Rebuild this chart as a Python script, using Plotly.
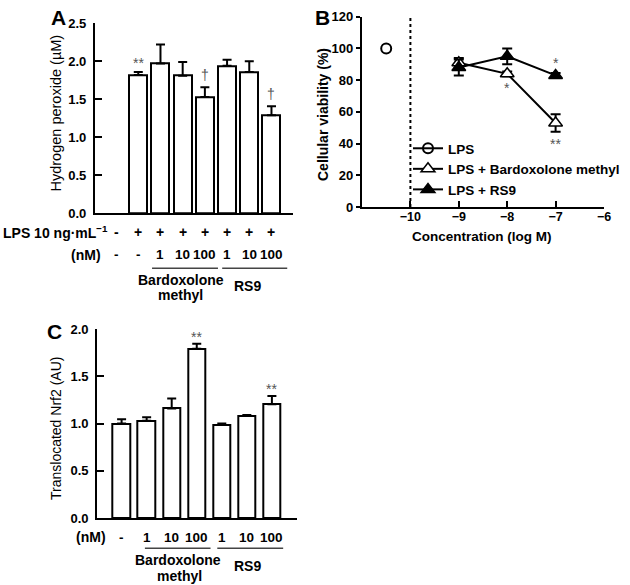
import plotly.graph_objects as go

# ---------------- Panel A: hydrogen peroxide ----------------
a_categories = ["Control", "LPS", "BM 1", "BM 10", "BM 100", "RS9 1", "RS9 10", "RS9 100"]
a_h2o2 = [None, 1.82, 1.97, 1.81, 1.53, 1.94, 1.86, 1.29]
a_h2o2_sem = [0, 0.04, 0.25, 0.18, 0.13, 0.08, 0.14, 0.12]
a_marks = ["", "**", "", "", "†", "", "", "†"]
a_lps_row = ["-", "+", "+", "+", "+", "+", "+", "+"]
a_conc_row = ["-", "-", "1", "10", "100", "1", "10", "100"]
a_yticks = [0.0, 0.5, 1.0, 1.5, 2.0, 2.5]

# ---------------- Panel B: cellular viability ----------------
b_log_conc = [-9, -8, -7]
b_bardox = [91, 84, 53]
b_bardox_sem = [3, 1.5, 5.5]
b_rs9 = [88, 95, 83]
b_rs9_sem = [5, 5, 1.5]
b_lps_x = [-10.5]
b_lps = [100]
b_bardox_marks = ["", "*", "**"]
b_rs9_marks = ["", "", "*"]
b_xticks = [-10, -9, -8, -7, -6]
b_yticks = [0, 20, 40, 60, 80, 100, 120]

# ---------------- Panel C: translocated Nrf2 ----------------
c_categories = ["Control", "BM 1", "BM 10", "BM 100", "RS9 1", "RS9 10", "RS9 100"]
c_nrf2 = [1.00, 1.03, 1.16, 1.79, 0.985, 1.08, 1.205]
c_nrf2_sem = [0.045, 0.035, 0.105, 0.055, 0.015, 0.01, 0.085]
c_marks = ["", "", "", "**", "", "", "**"]
c_conc_row = ["-", "1", "10", "100", "1", "10", "100"]
c_yticks = [0.0, 0.5, 1.0, 1.5, 2.0]

W, H = 630, 585
FONT = "Liberation Sans, Arial, sans-serif"
def px(x):
    return x / W
def py(y):
    return 1 - y / H

fig = go.Figure()

bar_style = dict(color="white", line=dict(color="black", width=2))

fig.add_trace(go.Bar(
    x=a_categories, y=a_h2o2, width=0.81, marker=bar_style,
    error_y=dict(type="data", symmetric=False, array=a_h2o2_sem,
                 arrayminus=[0] * len(a_h2o2_sem), color="black", thickness=2, width=4.5),
    xaxis="x", yaxis="y", showlegend=False))

fig.add_trace(go.Bar(
    x=c_categories, y=c_nrf2, width=0.71, marker=bar_style,
    error_y=dict(type="data", symmetric=False, array=c_nrf2_sem,
                 arrayminus=[0] * len(c_nrf2_sem), color="black", thickness=2, width=4.5),
    xaxis="x3", yaxis="y3", showlegend=False))

err_style = dict(color="black", thickness=2, width=5)
fig.add_trace(go.Scatter(
    x=b_lps_x, y=b_lps, mode="lines+markers", name="LPS",
    marker=dict(symbol="circle-open", size=10, color="black", line=dict(width=2)),
    line=dict(color="black", width=2),
    xaxis="x2", yaxis="y2"))
fig.add_trace(go.Scatter(
    x=b_log_conc, y=b_bardox, mode="lines+markers", name="LPS + Bardoxolone methyl",
    marker=dict(symbol="triangle-up", size=12, color="white", line=dict(color="black", width=1.5)),
    line=dict(color="black", width=2),
    error_y=dict(type="data", array=b_bardox_sem, **err_style),
    xaxis="x2", yaxis="y2"))
fig.add_trace(go.Scatter(
    x=b_log_conc, y=b_rs9, mode="lines+markers", name="LPS + RS9",
    marker=dict(symbol="triangle-up", size=12, color="black", line=dict(color="black", width=1.5)),
    line=dict(color="black", width=2),
    error_y=dict(type="data", array=b_rs9_sem, **err_style),
    xaxis="x2", yaxis="y2"))

line_common = dict(showline=True, linecolor="black", linewidth=2.2, showgrid=False, zeroline=False)
tickfont = dict(family=FONT, size=13, color="black", weight="bold")

fig.update_layout(
    width=W, height=H, margin=dict(l=0, r=0, t=0, b=0, autoexpand=False),
    paper_bgcolor="white", plot_bgcolor="white",
    font=dict(family=FONT, color="black"),
    bargap=0,
    xaxis=dict(domain=[px(95), px(293)], range=[-0.95, 7.97], type="category",
               showticklabels=False, ticks="", **line_common),
    yaxis=dict(domain=[py(213.3), py(23.3)], range=[0, 2.5], tickvals=a_yticks, tickformat=".1f",
               ticks="inside", ticklen=7, tickwidth=2, tickcolor="black", anchor="x",
               ticklabelstandoff=4, tickfont=tickfont, **line_common),
    xaxis2=dict(domain=[px(362), px(604)], range=[-11, -6], tickvals=b_xticks,
                ticks="inside", ticklen=6, tickwidth=2, tickcolor="black", anchor="y2",
                ticklabelstandoff=-3, tickfont=dict(family=FONT, size=12.5, color="black", weight="bold"),
                **line_common),
    yaxis2=dict(domain=[py(207), py(16.7)], range=[0, 120], tickvals=b_yticks,
                ticks="outside", ticklen=4, tickwidth=2, tickcolor="black", anchor="x2",
                tickfont=tickfont, **line_common),
    xaxis3=dict(domain=[px(97.3), px(296.7)], range=[-0.97, 6.99], type="category", anchor="y3",
                showticklabels=False, ticks="", **line_common),
    yaxis3=dict(domain=[py(518), py(329)], range=[0, 2.0], tickvals=c_yticks, tickformat=".1f",
                ticks="inside", ticklen=7, tickwidth=2, tickcolor="black", anchor="x3",
                ticklabelstandoff=4, tickfont=tickfont, **line_common),
    legend=dict(x=px(408), y=py(133), xanchor="left", yanchor="top", bgcolor="rgba(0,0,0,0)",
                font=dict(family=FONT, size=13.5, color="black", weight="bold"), tracegroupgap=0),
)

# dashed break line at -10
fig.add_shape(type="line", xref="x2", yref="y2", x0=-10, x1=-10, y0=0, y1=120,
              line=dict(color="black", width=2, dash="dot"))

ann = []
def txt(x, y, text, xref="paper", yref="paper", size=14, bold=True, color="black",
        xanchor="center", yanchor="middle", angle=0, yshift=0):
    ann.append(dict(x=x, y=y, xref=xref, yref=yref, text=text, showarrow=False,
                    xanchor=xanchor, yanchor=yanchor, textangle=angle, yshift=yshift,
                    font=dict(family=FONT, size=size, color=color, weight="bold" if bold else "normal")))

GRAY = "#555555"
# significance marks A
for i, m in enumerate(a_marks):
    if m:
        txt(a_categories[i], a_h2o2[i] + a_h2o2_sem[i], m, xref="x", yref="y", size=14,
            bold=False, color=GRAY, yanchor="bottom", yshift=(-1 if m == "**" else 2))
# significance marks C
for i, m in enumerate(c_marks):
    if m:
        txt(c_categories[i], c_nrf2[i] + c_nrf2_sem[i], m, xref="x3", yref="y3", size=14,
            bold=False, color=GRAY, yanchor="bottom", yshift=-3)
# significance marks B
for i, m in enumerate(b_bardox_marks):
    if m:
        txt(b_log_conc[i], b_bardox[i] - b_bardox_sem[i], m, xref="x2", yref="y2", size=14,
            bold=False, color=GRAY, yanchor="top", yshift=-2)
for i, m in enumerate(b_rs9_marks):
    if m:
        txt(b_log_conc[i], b_rs9[i] + b_rs9_sem[i], m, xref="x2", yref="y2", size=14,
            bold=False, color=GRAY, yanchor="bottom", yshift=0)

# rows under panel A
txt(px(110), py(232), "LPS 10 ng·mL<sup>−1</sup>", xanchor="right")
for i, s in enumerate(a_lps_row):
    txt(a_categories[i], py(232), s, xref="x")
txt(px(103), py(254.5), "(nM)", xanchor="right")
for i, s in enumerate(a_conc_row):
    txt(a_categories[i], py(254.5), s, xref="x", size=13.5)
fig.add_shape(type="line", xref="x", yref="paper", x0=1.62, x1=4.59, y0=py(268.3), y1=py(268.3),
              line=dict(color="#444444", width=1.5))
fig.add_shape(type="line", xref="x", yref="paper", x0=4.78, x1=7.71, y0=py(268.3), y1=py(268.3),
              line=dict(color="#444444", width=1.5))
txt(2.92, py(280), "Bardoxolone", xref="x")
txt(2.92, py(295), "methyl", xref="x")
txt(5.94, py(285.5), "RS9", xref="x")

# rows under panel C
txt(px(108), py(537.3), "(nM)", xanchor="right")
for i, s in enumerate(c_conc_row):
    txt(c_categories[i], py(537.3), s, xref="x3", size=13.5)
fig.add_shape(type="line", xref="x3", yref="paper", x0=0.93, x1=3.55, y0=py(548.3), y1=py(548.3),
              line=dict(color="#444444", width=1.5))
fig.add_shape(type="line", xref="x3", yref="paper", x0=3.82, x1=6.45, y0=py(548.3), y1=py(548.3),
              line=dict(color="#444444", width=1.5))
txt(2.25, py(559.5), "Bardoxolone", xref="x3")
txt(2.3, py(575.5), "methyl", xref="x3")
txt(5.04, py(565.5), "RS9", xref="x3")

# axis titles
txt(px(56), py(113.5), "Hydrogen peroxide (µM)", size=14.5, bold=False, angle=-90)
txt(px(323), py(115), "Cellular viability (%)", size=14, bold=True, angle=-90)
txt(px(482), py(236), "Concentration (log M)", size=13.5, bold=True)
txt(px(56), py(429), "Translocated Nrf2 (AU)", size=14, bold=False, angle=-90)

# panel letters
txt(px(58), py(17.5), "A", size=21)
txt(px(322), py(17), "B", size=21)
txt(px(54), py(331), "C", size=21)

fig.update_layout(annotations=ann)
fig.write_html("out.html", config={"displayModeBar": False},
               post_script="document.body.style.margin='0px';document.body.style.overflow='hidden';")
